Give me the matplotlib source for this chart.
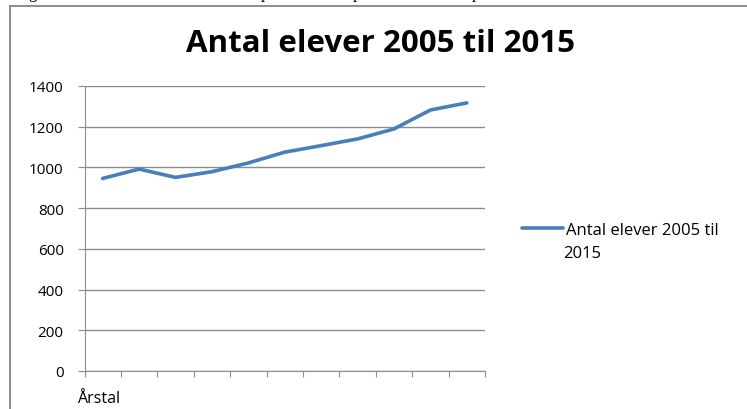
import matplotlib.pyplot as plt
from matplotlib.lines import Line2D

# data
years = [2005, 2006, 2007, 2008, 2009, 2010, 2011, 2012, 2013, 2014, 2015]
elever = [946, 992, 951, 979, 1022, 1075, 1107, 1140, 1189, 1282, 1317]
yticks = [0, 200, 400, 600, 800, 1000, 1200, 1400]
title = 'Antal elever 2005 til 2015'
legend_label = 'Antal elever 2005 til'
legend_label2 = '2015'
xlabel = 'Årstal'

blue = '#4a7ebb'
grey = '#8c8c8c'
W, H = 747, 410

fig = plt.figure(figsize=(W / 100, H / 100), dpi=100)
fig.patch.set_facecolor('white')

# chart frame (only top and left edges are visible in the crop)
fig.add_artist(Line2D([10 / W, 10 / W], [0, 1 - 7 / H], color=grey, lw=1.4))
fig.add_artist(Line2D([10 / W, 1], [1 - 7 / H, 1 - 7 / H], color=grey, lw=1.4))

# cut-off text of the page above the chart
for ch, px in [('g', 28), ('p', 261), ('p', 353), ('p', 472)]:
    fig.text(px / W, 1 + 2 / H, ch, fontsize=12, family='Liberation Serif',
             va='baseline', ha='left')

ax = fig.add_axes([84.5 / W, 38 / H, 400.5 / W, 285 / H])
x = list(range(len(years)))
ax.plot(x, elever, color=blue, lw=2.6, solid_capstyle='round', label=legend_label)

ax.set_xlim(-0.5, len(years) - 0.5)
ax.set_ylim(0, 1400)
ax.set_yticks(yticks)
ax.set_yticklabels([str(v) for v in yticks], family='Open Sans', fontsize=11)
ax.set_xticks([i - 0.5 for i in range(len(years) + 1)])
ax.set_xticklabels([])
ax.grid(axis='y', color=grey, lw=1)
ax.set_axisbelow(True)
for s in ['top', 'right']:
    ax.spines[s].set_visible(False)
ax.spines['left'].set_color(grey)
ax.spines['bottom'].set_color(grey)
ax.tick_params(axis='y', length=5, color=grey, pad=10)
ax.tick_params(axis='x', length=4, color=grey)

ax.text(-7 / 400.5, -19 / 285, xlabel, transform=ax.transAxes, ha='left', va='top',
        family='Open Sans', fontsize=11.5)

fig.text(380 / W, 1 - 44 / H, title, ha='center', va='center', family='Open Sans',
         fontweight='bold', fontsize=22.5)

leg = fig.legend(loc='center left', bbox_to_anchor=(515 / W, 1 - 231 / H), frameon=False,
                 handlelength=2.5, handletextpad=0.15, borderaxespad=0,
                 prop={'family': 'Open Sans', 'size': 12})
fig.text(563 / W, 1 - 254 / H, legend_label2, ha='left', va='center', family='Open Sans',
         fontsize=12)

fig.savefig('out.png', dpi=100)
